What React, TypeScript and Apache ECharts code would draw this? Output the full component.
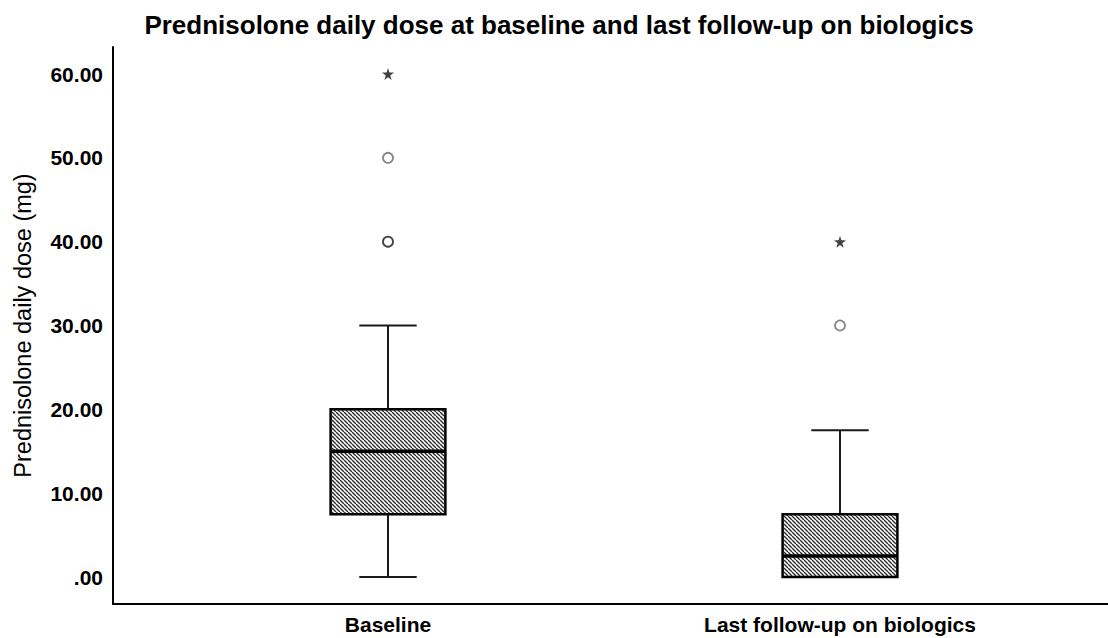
import React, { useEffect, useRef } from "react";
import * as echarts from "echarts";

const categories = ["Baseline", "Last follow-up on biologics"];
// [min, q1, median, q3, max]
const boxStats = [
  [0, 7.5, 15, 20, 30],
  [0, 0, 2.5, 7.5, 17.5],
];
const circleOutliers = [
  [0, 50],
  [0, 40],
  [0, 40],
  [1, 30],
];
const extremeOutliers = [
  [0, 60],
  [1, 40],
];
const yTicks = [0, 10, 20, 30, 40, 50, 60];

const FONT = "'Liberation Sans', Arial, sans-serif";
const STAR =
  "path://M50,0 L61,35 L98,35 L68,57 L79,91 L50,70 L21,91 L32,57 L2,35 L39,35 Z";

export default function App() {
  const ref = useRef<HTMLDivElement>(null);
  useEffect(() => {
    document.body.style.margin = "0";
    if (!ref.current) return;
    const chart = echarts.init(ref.current, null, { renderer: "svg" });

    const s = 4;
    const cv = document.createElement("canvas");
    cv.width = s;
    cv.height = s;
    const ctx = cv.getContext("2d")!;
    ctx.fillStyle = "#ffffff";
    ctx.fillRect(0, 0, s, s);
    ctx.strokeStyle = "#2e2e2e";
    ctx.lineWidth = 1.4;
    for (const k of [-s, 0, s]) {
      ctx.beginPath();
      ctx.moveTo(k, 0);
      ctx.lineTo(k + s, s);
      ctx.stroke();
    }
    const hatch: any = { image: cv, repeat: "repeat", imageWidth: s, imageHeight: s };

    const boxData = boxStats.map((b, i) => [i, ...b]);

    chart.setOption({
      animation: false,
      title: {
        text: "Prednisolone daily dose at baseline and last follow-up on biologics",
        left: 554,
        textAlign: "center",
        top: 7,
        textStyle: { fontFamily: FONT, fontSize: 26, fontWeight: "bold", color: "#000" },
      },
      grid: [
        { left: 162, right: 42, top: 74, bottom: 61 },
        { left: 113, right: 0, top: 47, bottom: 34 },
      ],
      xAxis: [
        {
          gridIndex: 0,
          type: "category",
          data: categories,
          offset: 27,
          axisLine: { show: false },
          axisTick: { show: false },
          axisLabel: {
            margin: 10,
            fontFamily: FONT,
            fontSize: 21,
            fontWeight: "bold",
            color: "#000",
          },
        },
        {
          gridIndex: 1,
          type: "value",
          min: 0,
          max: 1,
          axisLine: { show: true, onZero: false, lineStyle: { color: "#000", width: 2 } },
          axisTick: { show: false },
          axisLabel: { show: false },
          splitLine: { show: false },
        },
      ],
      yAxis: [
        {
          gridIndex: 0,
          type: "value",
          min: yTicks[0],
          max: yTicks[yTicks.length - 1],
          interval: 10,
          offset: 49,
          axisLine: { show: false },
          axisTick: { show: false },
          splitLine: { show: false },
          axisLabel: {
            margin: 10,
            fontFamily: FONT,
            fontSize: 21,
            fontWeight: "bold",
            color: "#000",
            formatter: (v: number) => (v === 0 ? ".00" : v.toFixed(2)),
          },
          name: "Prednisolone daily dose (mg)",
          nameLocation: "middle",
          nameGap: 78,
          nameTextStyle: { fontFamily: FONT, fontSize: 23.5, color: "#000" },
        },
        {
          gridIndex: 1,
          type: "value",
          min: -3.22,
          max: 63.22,
          axisLine: { show: true, onZero: false, lineStyle: { color: "#000", width: 2 } },
          axisTick: { show: false },
          axisLabel: { show: false },
          splitLine: { show: false },
        },
      ],
      series: [
        {
          type: "custom",
          xAxisIndex: 0,
          yAxisIndex: 0,
          data: boxData,
          renderItem: (params: any, api: any) => {
            const x = api.value(0);
            const band = api.size([1, 0])[0];
            const half = band * 0.127;
            const capHalf = half / 2;
            const pMin = api.coord([x, api.value(1)]);
            const pQ1 = api.coord([x, api.value(2)]);
            const pMed = api.coord([x, api.value(3)]);
            const pQ3 = api.coord([x, api.value(4)]);
            const pMax = api.coord([x, api.value(5)]);
            const cx = pMed[0];
            const ln = { stroke: "#1a1a1a", lineWidth: 2 };
            return {
              type: "group",
              children: [
                { type: "line", shape: { x1: cx, y1: pQ3[1], x2: cx, y2: pMax[1] }, style: ln },
                { type: "line", shape: { x1: cx, y1: pQ1[1], x2: cx, y2: pMin[1] }, style: ln },
                { type: "line", shape: { x1: cx - capHalf, y1: pMax[1], x2: cx + capHalf, y2: pMax[1] }, style: ln },
                { type: "line", shape: { x1: cx - capHalf, y1: pMin[1], x2: cx + capHalf, y2: pMin[1] }, style: ln },
                {
                  type: "rect",
                  shape: { x: cx - half, y: pQ3[1], width: half * 2, height: pQ1[1] - pQ3[1] },
                  style: { fill: hatch, stroke: "#000", lineWidth: 2.5 },
                },
                {
                  type: "line",
                  shape: { x1: cx - half, y1: pMed[1], x2: cx + half, y2: pMed[1] },
                  style: { stroke: "#000", lineWidth: 3.5 },
                },
              ],
            };
          },
        },
        {
          type: "scatter",
          xAxisIndex: 0,
          yAxisIndex: 0,
          data: circleOutliers,
          symbol: "circle",
          symbolSize: 10,
          itemStyle: { color: "rgba(255,255,255,0)", borderColor: "rgba(0,0,0,0.6)", borderWidth: 1.8 },
        },
        {
          type: "scatter",
          xAxisIndex: 0,
          yAxisIndex: 0,
          data: extremeOutliers,
          symbol: STAR,
          symbolSize: 12,
          itemStyle: { color: "#111" },
        },
      ],
    });
    return () => chart.dispose();
  }, []);
  return <div ref={ref} style={{ width: 1108, height: 638 }} />;
}
